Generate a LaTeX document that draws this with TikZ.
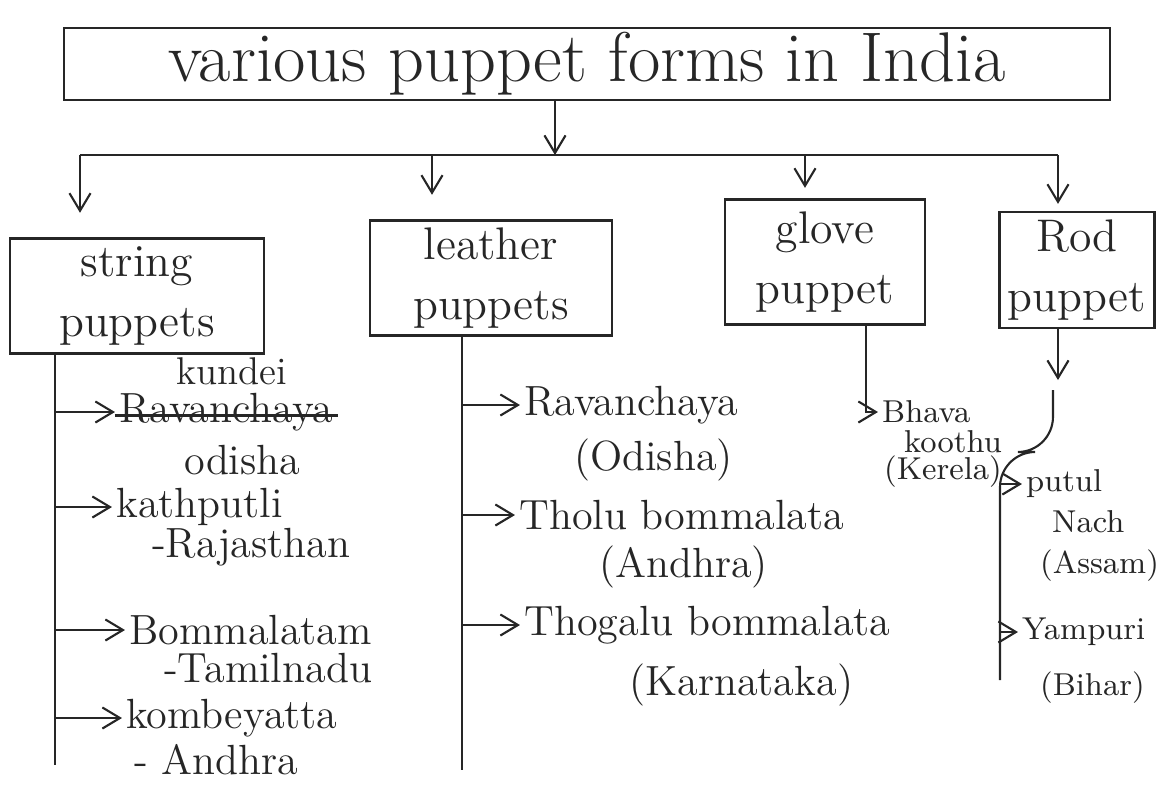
\documentclass[tikz,border=0pt]{standalone}
\usetikzlibrary{arrows.meta}

\begin{document}
\begin{tikzpicture}[x=0.01cm, y=-0.01cm, black!85,
    box/.style={draw, semithick, inner sep=0pt, align=center, font=\fontsize{13}{17}\selectfont},
    item/.style={anchor=west, inner sep=1pt, font=\fontsize{12}{14}\selectfont},
    small/.style={anchor=west, inner sep=1pt, font=\fontsize{9}{11}\selectfont},
    link/.style={semithick, arrows={-Straight Barb[length=5pt, width=6pt]}}]

    \useasboundingbox (0,0) rectangle (1159,787);

    % --- Title ---
    \node[box, minimum width=10.45cm, minimum height=0.72cm, font=\fontsize{20}{24}\selectfont] (title) at (587,64) {various puppet forms in India};

    % --- Branch line ---
    \coordinate (hub) at (555,155);
    \coordinate (tS) at (80,155);
    \coordinate (tL) at (432,155);
    \coordinate (tG) at (805,155);
    \coordinate (tR) at (1058,155);
    \draw[semithick] (tS) -- (tR);
    \draw[link] (title.south -| hub) -- (hub);

    % --- Categories ---
    \node[box, minimum width=2.53cm, minimum height=1.15cm] (string) at (137,296) {string\\puppets};
    \node[box, minimum width=2.42cm, minimum height=1.15cm] (leather) at (491,278) {leather\\puppets};
    \node[box, minimum width=2cm, minimum height=1.25cm] (glove) at (825,262) {glove\\puppet};
    \node[box, minimum width=1.55cm, minimum height=1.16cm] (rod) at (1077,270) {Rod\\puppet};

    \foreach \t/\cat/\g in {tS/string/7, tL/leather/7, tG/glove/3, tR/rod/2}
        \draw[link, shorten >=\g pt] (\t) -- (\t |- \cat.north);

    % --- String puppets ---
    \coordinate (sBot) at (55,765);
    \draw[semithick] (string.south -| sBot) -- (sBot);

    \node[item, font=\fontsize{11}{13}\selectfont] (kundei) at (172,371) {kundei};
    \node[item] (ravan1) at (115,412) {Ravanchaya};
    \draw[semithick] ([yshift=-1pt]ravan1.west) -- ([yshift=-1pt]ravan1.east); % crossed out
    \node[item] (odisha1) at (180,460) {odisha};
    \node[item] (kath) at (112,507) {kathputli};
    \node[item] (raj) at (148,547) {-Rajasthan};
    \node[item] (bomm) at (125,630) {Bommalatam};
    \node[item] (tamil) at (160,668) {-Tamilnadu};
    \node[item] (komb) at (122,718) {kombeyatta};
    \node[item] (andhra1) at (130,760) {- Andhra};

    \foreach \i in {ravan1, kath, bomm, komb}
        \draw[link] (sBot |- \i.west) -- (\i.west);

    % --- Leather puppets ---
    \coordinate (lBot) at (462,770);
    \draw[semithick] (leather.south -| lBot) -- (lBot);

    \node[item] (ravan2) at (520,405) {Ravanchaya};
    \node[item] (odisha2) at (570,460) {(Odisha)};
    \node[item] (tholu) at (515,515) {Tholu bommalata};
    \node[item] (andhra2) at (595,567) {(Andhra)};
    \node[item] (thogalu) at (520,625) {Thogalu bommalata};
    \node[item] (karna) at (625,685) {(Karnataka)};

    \foreach \i in {ravan2, tholu, thogalu}
        \draw[link] (lBot |- \i.west) -- (\i.west);

    % --- Glove puppet ---
    \coordinate (gTurn) at (866,412);
    \node[small] (bhava) at (878,412) {Bhava};
    \node[small] (koothu) at (900,442) {koothu};
    \node[small] (kerala) at (880,472) {(Kerela)};
    \draw[link] (glove.south -| gTurn) |- (bhava.west);

    % --- Rod puppet ---
    \coordinate (rTip) at (1058,380);
    \draw[link] (rod.south -| rTip) -- (rTip);

    \coordinate (rTop) at (1053,390);
    \coordinate (rBot) at (1000,680);
    \draw[semithick, rounded corners=10pt] (rTop) |- (rBot |- 0,452) -- (rBot);

    \node[small] (putul) at (1022,484) {putul};
    \node[small] (nach) at (1048,522) {Nach};
    \node[small] (assam) at (1036,566) {(Assam)};
    \node[small] (yampuri) at (1018,632) {Yampuri};
    \node[small] (bihar) at (1036,688) {(Bihar)};

    \foreach \i in {putul, yampuri}
        \draw[link] (rBot |- \i.west) -- (\i.west);

\end{tikzpicture}
\end{document}
